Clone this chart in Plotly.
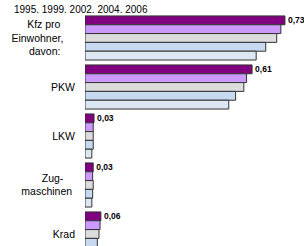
import plotly.graph_objects as go

NB = "\u00a0"
categories = ["Kfz pro Einwohner, davon:", "PKW", "LKW", "Zug-maschinen", "Krad"]
tick_labels = ["Kfz pro" + NB * 5 + "<br>Einwohner," + NB * 4 + "<br>davon:" + NB * 5,
               "PKW", "LKW", "Zug-" + NB * 4 + "<br>maschinen" + NB, "Krad"]
years = ["2006", "2004", "2002", "1999", "1995"]
v2006 = [0.73, 0.61, 0.033, 0.03, 0.058]
v2004 = [0.715, 0.59, 0.03, 0.028, 0.055]
v2002 = [0.70, 0.58, 0.03, 0.03, 0.051]
v1999 = [0.66, 0.55, 0.03, 0.028, 0.045]
v1995 = [0.625, 0.525, 0.025, 0.025, 0.04]
legend_text = "1995. 1999. 2002. 2004. 2006"

series = [v2006, v2004, v2002, v1999, v1995]
colors = ["#800080", "#cc99ff", "#dcdcdc", "#c6d9f0", "#dde7f3"]

fig = go.Figure()
for i, (name, vals, col) in enumerate(zip(years, series, colors)):
    fig.add_trace(go.Bar(
        x=vals, y=categories, orientation="h", name=name,
        marker=dict(color=col, line=dict(color="#333333", width=1)),
        texttemplate="%{x:.2f}" if i == 0 else None,
        textposition="outside" if i == 0 else "none",
        textfont=dict(family="Liberation Sans", size=8.5, color="#000000", weight="bold"),
        cliponaxis=False, constraintext="none",
    ))

fig.update_layout(
    width=304, height=246,
    margin=dict(l=85, r=4, t=15, b=0, autoexpand=False),
    barmode="group", bargap=0.1, bargroupgap=0,
    separators=",.",
    showlegend=False,
    plot_bgcolor="white", paper_bgcolor="white",
    font=dict(family="Liberation Sans", size=10.5, color="#000000"),
    xaxis=dict(range=[0, 0.785], visible=False, automargin=False),
    yaxis=dict(range=[4.245, -0.469], showline=False, showgrid=False, automargin=False,
               tickmode="array", tickvals=categories, ticktext=tick_labels,
               ticks="", ticklabelstandoff=9, tickfont=dict(size=10.5)),
    annotations=[dict(text=legend_text, xref="paper", yref="paper",
                      x=-73/215, y=1, xanchor="left", yanchor="bottom",
                      yshift=-2, showarrow=False,
                      font=dict(size=10, family="Liberation Sans"))],
)

fig.write_html("out.html", config={"displayModeBar": False},
               post_script="document.body.style.margin='0';document.body.style.overflow='hidden';")
